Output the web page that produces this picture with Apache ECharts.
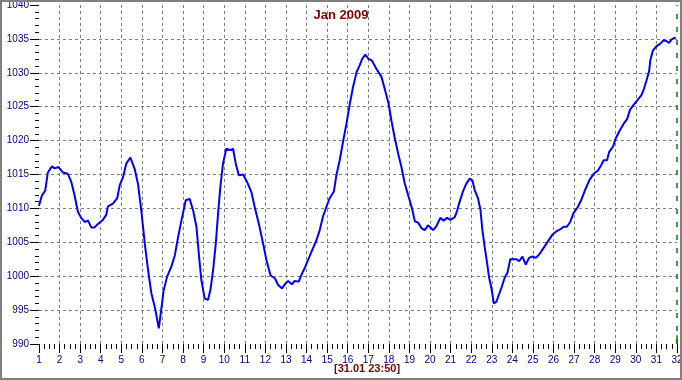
<!DOCTYPE html>
<html><head><meta charset="utf-8">
<script src="https://cdn.jsdelivr.net/npm/echarts@6/dist/echarts.min.js"></script>
<style>
html,body{margin:0;padding:0;background:#fff;}
#wrap{position:relative;width:682px;height:380px;}
#chart{position:absolute;left:0;top:0;width:682px;height:380px;}
#frame{position:absolute;left:0;top:0;width:682px;height:380px;box-sizing:border-box;border:2px solid #808080;pointer-events:none;}
</style></head>
<body>
<div id="wrap"><div id="chart"></div><div id="frame"></div></div>
<script>
const title = "Jan 2009";
const stampLabel = "[31.01 23:50]";
const yName = "hPa";
const days = [1.0,1.14,1.30,1.43,1.63,1.76,1.95,2.16,2.4,2.57,2.73,2.89,3.05,3.22,3.38,3.54,3.7,3.86,4.1,4.26,4.35,4.59,4.8,4.92,5.08,5.24,5.44,5.52,5.65,5.81,5.97,6.14,6.3,6.46,6.66,6.82,6.91,6.98,7.05,7.22,7.43,7.6,7.76,7.92,8.13,8.32,8.49,8.65,8.78,8.89,9.05,9.21,9.33,9.46,9.59,9.7,9.81,9.94,10.1,10.3,10.43,10.56,10.71,10.92,11.11,11.32,11.48,11.7,11.89,12.05,12.25,12.46,12.62,12.81,12.97,13.1,13.29,13.42,13.62,13.75,13.94,14.1,14.31,14.48,14.64,14.8,14.96,15.12,15.33,15.45,15.61,15.77,15.94,16.1,16.26,16.43,16.58,16.71,16.86,16.99,17.18,17.39,17.64,17.8,17.99,18.12,18.28,18.45,18.61,18.77,18.96,19.05,19.14,19.26,19.42,19.58,19.74,19.9,20.15,20.31,20.5,20.66,20.83,20.99,21.2,21.31,21.44,21.6,21.77,21.93,22.06,22.17,22.33,22.45,22.54,22.66,22.77,22.87,22.98,23.1,23.22,23.35,23.47,23.63,23.76,23.9,24.03,24.2,24.33,24.49,24.65,24.81,24.98,25.14,25.3,25.48,25.72,25.94,26.13,26.32,26.49,26.65,26.81,26.97,27.18,27.34,27.56,27.75,27.95,28.16,28.32,28.44,28.6,28.7,28.89,29.02,29.22,29.41,29.58,29.71,29.87,30.06,30.27,30.39,30.52,30.65,30.7,30.83,31.0,31.19,31.35,31.48,31.61,31.73,31.84,31.94];
const pressure = [1010.4,1011.9,1012.6,1015.3,1016.2,1015.9,1016.1,1015.3,1015.1,1013.9,1011.9,1009.5,1008.6,1008.0,1008.2,1007.2,1007.2,1007.7,1008.3,1009.0,1010.3,1010.7,1011.5,1013.4,1014.6,1016.6,1017.5,1017.3,1015.8,1013.6,1009.7,1004.8,1000.9,997.5,995.0,992.3,992.5,996.0,997.8,999.9,1001.4,1003.1,1005.8,1008.2,1011.2,1011.4,1009.7,1007.3,1002.8,999.4,996.7,996.5,998.0,1000.9,1004.8,1009.2,1013.1,1016.6,1018.8,1018.6,1018.8,1016.6,1014.9,1015.0,1013.9,1012.4,1010.2,1007.5,1004.8,1002.4,1000.1,999.7,998.7,998.2,998.9,999.3,998.8,999.3,999.2,1000.2,1001.4,1002.6,1004.1,1005.3,1006.8,1008.8,1010.2,1011.5,1012.5,1014.9,1017.1,1019.8,1022.5,1025.4,1027.9,1030.1,1031.1,1032.1,1032.7,1032.1,1031.8,1030.6,1029.4,1027.6,1025.4,1023.0,1020.5,1018.1,1016.1,1013.7,1011.7,1010.8,1009.8,1008.1,1007.9,1007.1,1006.8,1007.5,1006.8,1007.4,1008.6,1008.2,1008.6,1008.3,1008.7,1009.6,1011.0,1012.5,1013.7,1014.4,1014.1,1012.7,1011.5,1009.8,1006.9,1004.2,1002.0,999.8,998.3,996.0,996.2,997.3,998.3,999.8,1000.5,1002.5,1002.5,1002.5,1002.2,1002.9,1001.7,1002.7,1002.9,1002.7,1003.2,1004.0,1005.1,1006.1,1006.6,1006.9,1007.3,1007.3,1008.0,1009.3,1010.2,1011.2,1012.9,1014.2,1015.1,1015.6,1016.4,1017.1,1017.1,1018.3,1019.1,1020.3,1021.5,1022.5,1023.2,1024.5,1025.2,1025.9,1026.7,1027.6,1028.9,1030.3,1031.8,1033.3,1033.9,1034.3,1034.8,1034.7,1034.4,1034.9,1035.1,1035.2];
const xMin = 1, xMax = 32, xStep = 1;
const yMin = 990, yMax = 1040, yStep = 5;

const seriesData = days.map((d, i) => [d, pressure[i]]);
const fontFam = '"Liberation Sans Narrow","Liberation Sans",Arial,sans-serif';
const chart = echarts.init(document.getElementById('chart'), null, {renderer: 'canvas'});
chart.setOption({
  animation: false,
  backgroundColor: '#ffffff',
  title: {
    text: title, left: 'center', top: 4,
    textStyle: {color: '#800000', fontSize: 13, fontWeight: 'bold', fontFamily: '"Liberation Sans",Arial,sans-serif'}
  },
  grid: {left: 39, right: 5, top: 5, bottom: 36, containLabel: false, outerBoundsMode: 'none'},
  xAxis: {
    type: 'value', min: xMin, max: xMax, interval: xStep,
    axisLine: {show: false},
    axisTick: {show: true, length: 9, lineStyle: {color: '#000', width: 1}},
    minorTick: {show: true, splitNumber: 4, length: 5, lineStyle: {color: '#000', width: 1}},
    axisLabel: {color: '#000080', fontSize: 10, fontFamily: fontFam, margin: 11, formatter: v => String(v)},
    splitLine: {show: true, showMinLine: false, showMaxLine: false, lineStyle: {color: '#808080', type: [3, 3], width: 1}}
  },
  yAxis: {
    type: 'value', min: yMin, max: yMax, interval: yStep,
    name: yName, nameLocation: 'middle', nameRotate: 90, nameGap: 27,
    nameTextStyle: {color: '#800000', fontSize: 11, fontWeight: 'bold', fontFamily: '"Liberation Sans",Arial,sans-serif'},
    axisLine: {show: false},
    axisTick: {show: true, length: 9, lineStyle: {color: '#000', width: 1}},
    minorTick: {show: true, splitNumber: 5, length: 4, lineStyle: {color: '#000', width: 1}},
    axisLabel: {color: '#000080', fontSize: 10, fontFamily: fontFam, margin: 10, formatter: v => String(v)},
    splitLine: {show: true, showMinLine: false, showMaxLine: false, lineStyle: {color: '#808080', type: [3, 3], width: 1}}
  },
  graphic: [{
    type: 'text', left: 334, top: 363,
    style: {text: stampLabel, fill: '#800000', font: 'bold 11px "Liberation Sans",Arial,sans-serif'}
  }],
  series: [{
    type: 'line', data: seriesData, showSymbol: false, smooth: false,
    lineStyle: {color: '#0000ff', width: 2},
    markLine: {
      silent: true, symbol: 'none', label: {show: false},
      data: [
        [{coord: [xMax, yMin], lineStyle: {color: '#008000', type: [5, 8], width: 1.5}}, {coord: [xMax, yMax]}],
        [{coord: [xMax, yMin], lineStyle: {color: '#008000', type: 'solid', width: 1.5}}, {coord: [xMax, yMin + 1.3]}]
      ]
    }
  }]
});
</script>
</body></html>
